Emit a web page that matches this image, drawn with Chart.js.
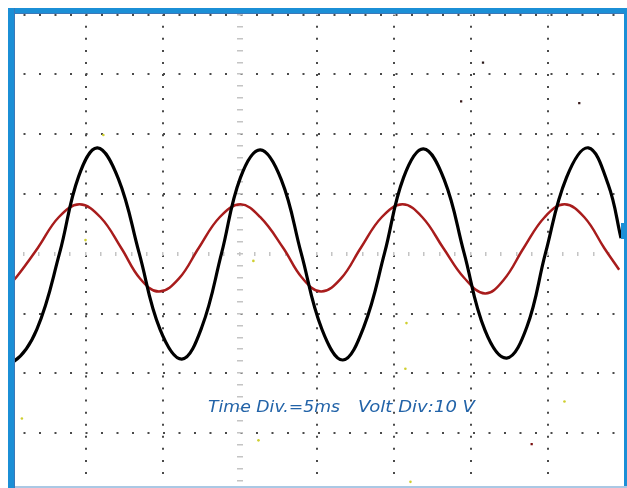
<!DOCTYPE html>
<html>
<head>
<meta charset="utf-8">
<script src="https://cdn.jsdelivr.net/npm/chart.js@4.4.1/dist/chart.umd.min.js"></script>
<style>
  html, body { margin: 0; padding: 0; background: #fff; }
  body { width: 627px; height: 488px; overflow: hidden; position: relative; }
  #wrap { position: absolute; left: 0; top: 0; width: 627px; height: 488px; }
  .frame { position: absolute; background: #1b8fd6; z-index: 5; }
  #frameTop    { left: 8px;   top: 8px;   width: 619px; height: 5px; border-bottom: 1px solid #3b78b8; }
  #frameLeft   { left: 8px;   top: 8px;   width: 6px;   height: 480px; border-right: 1px solid #3b78b8; }
  #frameRight  { left: 624px; top: 8px;   width: 3px;   height: 480px; }
  #frameNotch  { left: 621px; top: 223px; width: 6px;   height: 16px; }
  #frameBottom { left: 15px;  top: 486px; width: 612px; height: 2px; background: #aac8e4; }
  .caption {
    position: absolute; z-index: 6; white-space: nowrap;
    font-family: 'DejaVu Sans', Verdana, sans-serif; font-style: italic;
    font-size: 15px; color: #2263a8; transform-origin: 0 0;
  }
</style>
</head>
<body>
<div id="wrap"><canvas id="scopeChart"></canvas></div>
<div class="frame" id="frameTop"></div>
<div class="frame" id="frameLeft"></div>
<div class="frame" id="frameRight"></div>
<div class="frame" id="frameNotch"></div>
<div class="frame" id="frameBottom"></div>
<div class="caption" id="timeCaption"></div>
<div class="caption" id="voltCaption"></div>
<script>
/* -------------------------------------------------------
   Screen settings
------------------------------------------------------- */
const TIME_DIV = 5;    // ms per division
const VOLT_DIV = 10;   // V per division
const TIME_LABEL = 'Time Div.=5ms';
const VOLT_LABEL = 'Volt Div:10 V';

/* -------------------------------------------------------
   Traces: time in ms, voltage in V
------------------------------------------------------- */
const blackTime = [
  -0.60, 0.35, 1.84, 3.32, 4.55, 5.77, 7.13, 8.48, 9.84, 11.26,
  12.55, 13.84, 15.06, 16.35, 17.71, 19.00, 20.35, 21.71,
  23.06, 24.42, 25.65, 26.94, 28.29, 29.58, 30.94, 32.35,
  33.65, 34.87, 36.23, 37.65, 38.94, 39.77
];
const blackVolts = [
  -16.90, -18.00, -12.62, 0.15, 12.92, 17.73, 12.59, 0.15, -12.62, -17.60,
  -12.29, 0.15, 12.75, 17.40, 12.42, 0.15, -12.62, -17.76,
  -12.29, 0.15, 12.75, 17.56, 12.42, 0.15, -12.79, -17.43,
  -12.29, 0.15, 12.75, 17.73, 11.59, 2.64
];

const redTime = [
  0.00, 0.48, 1.90, 3.26, 4.61, 5.97, 7.32, 8.55, 9.77,
  11.06, 12.35, 13.71, 15.06, 16.35, 17.84, 19.06, 20.29,
  21.58, 22.87, 24.23, 25.58, 26.87, 28.23, 29.58, 30.94,
  32.16, 33.45, 34.81, 36.10, 37.39, 38.68, 39.65
];
const redVolts = [
  -5.16, -4.00, 0.98, 6.12, 8.28, 6.12, 0.98, -4.16, -6.32,
  -4.16, 0.98, 6.12, 8.28, 6.12, 0.98, -4.00, -6.32,
  -4.16, 0.98, 6.12, 8.28, 6.12, 0.98, -4.00, -6.65,
  -4.33, 0.98, 6.12, 8.28, 6.12, 0.98, -2.67
];

// stray phosphor specks
const yellowTime  = [6.16, 5.00, 0.87, 16.23, 15.90, 25.84, 25.77, 36.10, 26.10];
const yellowVolts = [19.88, 2.30, -27.55, -31.20, -1.18, -11.59, -19.22, -24.69, -38.14];
const darkTime    = [30.81, 29.39, 37.06, 33.97];
const darkVolts   = [31.99, 25.52, 25.19, -31.84];
const darkColors  = ['#2a1a1a', '#3a1c1c', '#3a1c1c', '#7a1010'];

/* -------------------------------------------------------
   Screen window (8 x 8 divisions, cropped at right/bottom)
------------------------------------------------------- */
const X_MIN = 0;
const X_MAX = 39.9;
const Y_MAX = 40;
const Y_MIN = -38.5;

const toPoints = (xs, ys) => xs.map((x, i) => ({ x: x, y: ys[i] }));

// centre cross drawn as light tick marks instead of dots
const centreAxes = {
  id: 'centreAxes',
  beforeDatasetsDraw(chart) {
    const { ctx, scales: { x, y } } = chart;
    const cx = x.getPixelForValue(TIME_DIV * 3);
    const cy = y.getPixelForValue(0);
    ctx.save();
    ctx.fillStyle = '#c4c4c4';
    for (let v = Y_MIN - (Y_MIN % (VOLT_DIV / 5)); v <= Y_MAX; v += VOLT_DIV / 5) {
      const py = y.getPixelForValue(v);
      ctx.fillRect(Math.round(cx) - 3, Math.round(py) - 1, 6, 1.5);
    }
    for (let t = X_MIN; t <= X_MAX; t += TIME_DIV / 5) {
      const px = x.getPixelForValue(t);
      ctx.fillRect(Math.round(px) - 1, Math.round(cy) - 2, 1.5, 4);
    }
    ctx.restore();
  }
};

function initScopeChart(canvasId) {
  const ctx = document.getElementById(canvasId);
  if (!ctx) return;

  const hideCentre = (centre) => (c) =>
    (c.tick && Math.abs(c.tick.value - centre) < 1e-6) ? 'rgba(0,0,0,0)' : '#4a4a4a';
  const onDivisions = (step) => (scale) => {
    scale.ticks = scale.ticks.filter(t => Math.abs(Math.round(t.value / step) * step - t.value) < 1e-6);
  };

  return new Chart(ctx, {
    type: 'line',
    data: {
      datasets: [
        {
          label: 'CH1',
          data: toPoints(blackTime, blackVolts),
          borderColor: '#000000',
          borderWidth: 3.2,
          pointRadius: 0,
          tension: 0.4,
        },
        {
          label: 'specks',
          data: toPoints(yellowTime, yellowVolts),
          showLine: false,
          pointRadius: 1.3,
          pointBorderWidth: 0,
          pointBackgroundColor: '#cfcf30',
        },
        {
          label: 'dark specks',
          data: toPoints(darkTime, darkVolts),
          showLine: false,
          pointStyle: 'rect',
          pointRadius: 1.6,
          pointBorderWidth: 0,
          pointBackgroundColor: darkColors,
        },
        {
          label: 'CH2',
          data: toPoints(redTime, redVolts),
          borderColor: '#a81c1c',
          borderWidth: 2.5,
          pointRadius: 0,
          tension: 0.4,
        }
      ]
    },
    options: {
      responsive: true,
      maintainAspectRatio: false,
      animation: false,
      layout: { padding: { left: 8.5, top: 14.7, right: 0, bottom: 0 } },
      plugins: {
        legend: { display: false },
        tooltip: { enabled: false }
      },
      scales: {
        x: {
          type: 'linear',
          min: X_MIN,
          max: X_MAX,
          afterBuildTicks: onDivisions(TIME_DIV),
          ticks: { display: false, stepSize: TIME_DIV },
          grid: { color: hideCentre(TIME_DIV * 3), lineWidth: 2, drawTicks: false },
          border: { display: false, dash: [2, 10.06], dashOffset: 1 }
        },
        y: {
          type: 'linear',
          min: Y_MIN,
          max: Y_MAX,
          afterBuildTicks: onDivisions(VOLT_DIV),
          ticks: { display: false, stepSize: VOLT_DIV },
          grid: { color: hideCentre(0), lineWidth: 2, drawTicks: false },
          border: { display: false, dash: [2, 13.5], dashOffset: 1 }
        }
      }
    },
    plugins: [centreAxes]
  });
}

function placeCaption(id, text, left, top, widthPx) {
  const el = document.getElementById(id);
  el.textContent = text;
  el.style.left = left + 'px';
  el.style.top = top + 'px';
  const w = el.getBoundingClientRect().width;
  el.style.transform = 'scaleX(' + (widthPx / w) + ')';
}

document.addEventListener('DOMContentLoaded', () => {
  initScopeChart('scopeChart');
  placeCaption('timeCaption', TIME_LABEL, 208, 398, 132);
  placeCaption('voltCaption', VOLT_LABEL, 358, 398, 117);
});
</script>
</body>
</html>
